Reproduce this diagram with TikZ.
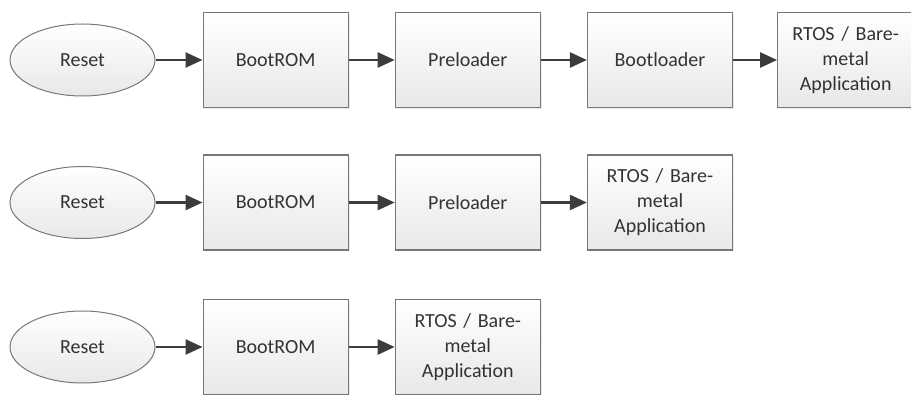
\documentclass[tikz,border=0pt]{standalone}
\usepackage{fontspec}
\setmainfont{Carlito}
\usepackage{xcolor}
\usetikzlibrary{shapes.geometric,arrows.meta,positioning,shadows}
\definecolor{edgecolor}{RGB}{120,120,120}
\definecolor{topcolor}{RGB}{255,255,255}
\definecolor{bottomcolor}{RGB}{232,232,232}
\definecolor{arrowcolor}{RGB}{60,60,60}
\definecolor{textcolor}{RGB}{51,51,51}

\begin{document}
\begin{tikzpicture}[
    x=1pt, y=1pt,
    node distance=46pt,
    every node/.style={font=\fontsize{20}{25}\selectfont, text=textcolor},
    startnode/.style={ellipse, draw=edgecolor, line width=1pt, top color=topcolor, bottom color=bottomcolor, minimum width=145pt, minimum height=72pt, inner sep=0pt},
    stage/.style={rectangle, draw=edgecolor, line width=1.2pt, top color=topcolor, bottom color=bottomcolor, minimum width=145pt, minimum height=95pt, text width=135pt, align=center, inner sep=0pt, drop shadow={shadow xshift=1.5pt, shadow yshift=-1.5pt, opacity=0.15}},
    arrow/.style={-{Triangle[length=17pt,width=15pt]}, line width=2.5pt, arrowcolor}
]
\useasboundingbox (0,0) rectangle (911,-395);

% First chain: full boot with bootloader
\node[startnode] (resetA) at (82.5,-60) {Reset};
\node[stage, right=47pt of resetA] (bootromA) {BootROM};
\node[stage, right=of bootromA] (preloaderA) {Preloader};
\node[stage, right=of preloaderA] (bootloaderA) {Bootloader};
\node[stage, right=44pt of bootloaderA, minimum width=136pt, text width=130pt] (appA) {RTOS / Bare-\\metal\\Application};

% Second chain: preloader starts the application
\node[startnode] (resetB) at (82.5,-202.5) {Reset};
\node[stage, right=47pt of resetB] (bootromB) {BootROM};
\node[stage, right=of bootromB] (preloaderB) {Preloader};
\node[stage, right=of preloaderB] (appB) {RTOS / Bare-\\metal\\Application};

% Third chain: BootROM starts the application
\node[startnode] (resetC) at (82.5,-347) {Reset};
\node[stage, right=47pt of resetC] (bootromC) {BootROM};
\node[stage, right=of bootromC] (appC) {RTOS / Bare-\\metal\\Application};

% Arrows
\draw[arrow] (resetA) -- (bootromA);
\draw[arrow] (bootromA) -- (preloaderA);
\draw[arrow] (preloaderA) -- (bootloaderA);
\draw[arrow] (bootloaderA) -- (appA);

\draw[arrow] (resetB) -- (bootromB);
\draw[arrow] (bootromB) -- (preloaderB);
\draw[arrow] (preloaderB) -- (appB);

\draw[arrow] (resetC) -- (bootromC);
\draw[arrow] (bootromC) -- (appC);

\end{tikzpicture}
\end{document}
